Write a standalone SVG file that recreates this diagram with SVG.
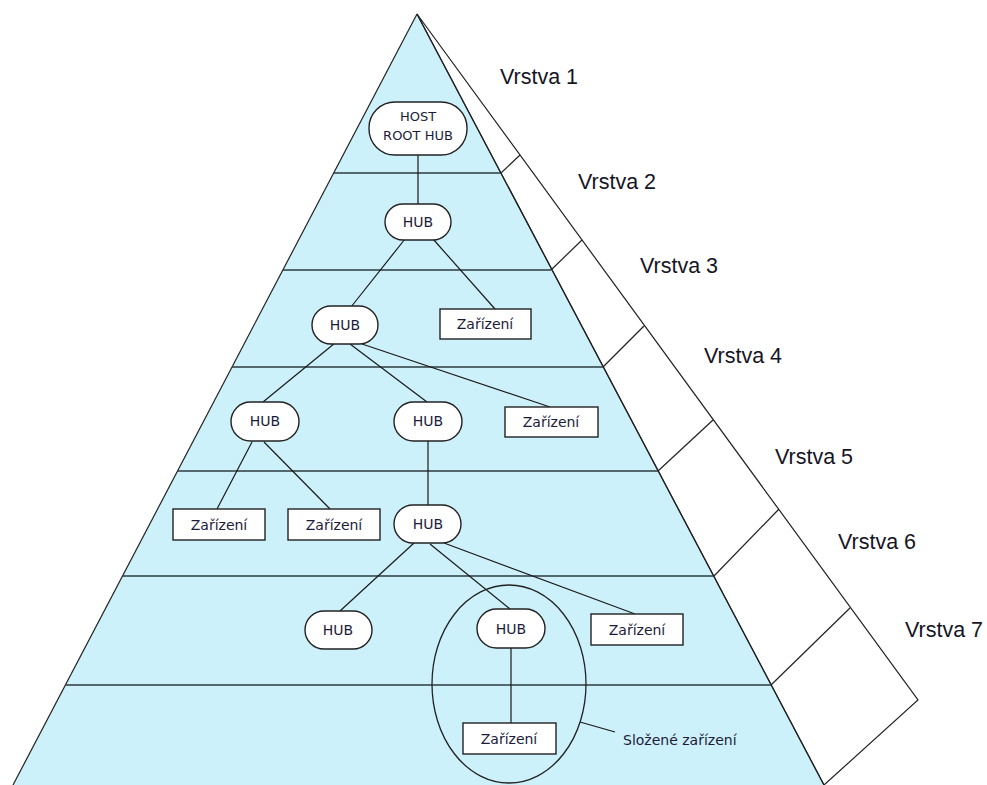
<svg xmlns="http://www.w3.org/2000/svg" width="987" height="785" viewBox="0 0 987 785">
<style>
.edge{stroke:#222;stroke-width:1.2;fill:none}
.layer{stroke:#2d3a3e;stroke-width:1.6;fill:none}
.conn{stroke:#1a1a1a;stroke-width:1.2;fill:none}
.node{fill:#fff;stroke:#222;stroke-width:1.4}
.lbl{font-family:"DejaVu Sans",Verdana,sans-serif;font-size:14px;fill:#1c1c3a;text-anchor:middle}
.small{font-size:13px}
.vr{font-family:"Liberation Sans",Arial,sans-serif;font-size:21.5px;fill:#151525}
.note{font-family:"DejaVu Sans",Verdana,sans-serif;font-size:14px;fill:#1c1c3a}
</style>
<rect width="987" height="785" fill="#fff"/>
<g id="pyramid">
<polygon points="417,14 824,785 13,785" fill="#cdf1fb" stroke="none"/>
<polygon points="417,14 918,700 824,785" fill="#fff" class="edge"/>
<line class="edge" x1="417" y1="14" x2="824" y2="785"/>
<line class="edge" x1="417" y1="14" x2="13" y2="785"/>
<g id="layer-lines">
<line class="layer" x1="334" y1="173" x2="501" y2="173"/>
<line class="layer" x1="283" y1="270" x2="551" y2="270"/>
<line class="layer" x1="232" y1="367" x2="603" y2="367"/>
<line class="layer" x1="178" y1="471" x2="658" y2="471"/>
<line class="layer" x1="123" y1="576" x2="714" y2="576"/>
<line class="layer" x1="66" y1="685" x2="771" y2="685"/>
</g>
<g id="side-dividers">
<line class="edge" x1="501" y1="173" x2="520" y2="155"/>
<line class="edge" x1="551" y1="270" x2="582" y2="240"/>
<line class="edge" x1="603" y1="367" x2="644" y2="326"/>
<line class="edge" x1="658" y1="471" x2="713" y2="420"/>
<line class="edge" x1="714" y1="576" x2="779" y2="509"/>
<line class="edge" x1="771" y1="685" x2="850" y2="608"/>
</g>
</g>
<g id="connectors">
<line class="conn" x1="418" y1="155" x2="418" y2="204"/>
<line class="conn" x1="405" y1="239" x2="351" y2="307"/>
<line class="conn" x1="433" y1="239" x2="495" y2="309"/>
<line class="conn" x1="335" y1="343" x2="263" y2="402"/>
<line class="conn" x1="350" y1="344" x2="427" y2="402"/>
<line class="conn" x1="362" y1="344" x2="550" y2="407"/>
<line class="conn" x1="252" y1="442" x2="217" y2="509"/>
<line class="conn" x1="264" y1="442" x2="330" y2="509"/>
<line class="conn" x1="428" y1="441" x2="428" y2="505"/>
<line class="conn" x1="414" y1="543" x2="340" y2="611"/>
<line class="conn" x1="430" y1="544" x2="510" y2="609"/>
<line class="conn" x1="444" y1="543" x2="635" y2="614"/>
<line class="conn" x1="511" y1="648" x2="511" y2="723"/>
<line class="conn" x1="580" y1="722" x2="615" y2="732"/>
</g>
<g id="host-root-hub">
<rect class="node" x="369" y="102" width="98" height="53" rx="26" ry="26"/>
<text class="lbl small" x="418" y="121">HOST</text>
<text class="lbl small" x="418" y="140">ROOT HUB</text>
</g>
<g id="hub-2">
<rect class="node" x="385" y="204" width="66" height="36" rx="18" ry="18"/>
<text class="lbl" x="418" y="227">HUB</text>
</g>
<g id="hub-3">
<rect class="node" x="312" y="306" width="66" height="38" rx="19" ry="19"/>
<text class="lbl" x="345" y="330">HUB</text>
</g>
<g id="dev-3">
<rect class="node" x="440" y="309" width="91" height="30"/>
<text class="lbl" x="485" y="329">Zařízení</text>
</g>
<g id="hub-4a">
<rect class="node" x="231" y="402" width="68" height="39" rx="19.5" ry="19.5"/>
<text class="lbl" x="265" y="426">HUB</text>
</g>
<g id="hub-4b">
<rect class="node" x="394" y="402" width="68" height="39" rx="19.5" ry="19.5"/>
<text class="lbl" x="428" y="426">HUB</text>
</g>
<g id="dev-4">
<rect class="node" x="505" y="407" width="93" height="30"/>
<text class="lbl" x="551" y="427">Zařízení</text>
</g>
<g id="dev-5a">
<rect class="node" x="173" y="509" width="92" height="31"/>
<text class="lbl" x="219" y="530">Zařízení</text>
</g>
<g id="dev-5b">
<rect class="node" x="288" y="509" width="92" height="31"/>
<text class="lbl" x="334" y="530">Zařízení</text>
</g>
<g id="hub-5">
<rect class="node" x="394" y="505" width="67" height="38" rx="19" ry="19"/>
<text class="lbl" x="428" y="529">HUB</text>
</g>
<g id="hub-6a">
<rect class="node" x="305" y="611" width="67" height="38" rx="19" ry="19"/>
<text class="lbl" x="338" y="635">HUB</text>
</g>
<g id="hub-6b">
<rect class="node" x="477" y="609" width="68" height="39" rx="19.5" ry="19.5"/>
<text class="lbl" x="511" y="634">HUB</text>
</g>
<g id="dev-6">
<rect class="node" x="591" y="614" width="92" height="31"/>
<text class="lbl" x="637" y="635">Zařízení</text>
</g>
<g id="dev-7">
<rect class="node" x="463" y="723" width="93" height="31"/>
<text class="lbl" x="509" y="744">Zařízení</text>
</g>
<g id="compound-device">
<ellipse cx="509" cy="684" rx="77" ry="99" fill="none" stroke="#222" stroke-width="1.3"/>
<text class="note" x="623" y="745">Složené zařízení</text>
</g>
<g id="layer-labels">
<text class="vr" x="500" y="84">Vrstva 1</text>
<text class="vr" x="578" y="189">Vrstva 2</text>
<text class="vr" x="640" y="273">Vrstva 3</text>
<text class="vr" x="704" y="363">Vrstva 4</text>
<text class="vr" x="775" y="464">Vrstva 5</text>
<text class="vr" x="838" y="549">Vrstva 6</text>
<text class="vr" x="905" y="637">Vrstva 7</text>
</g>
</svg>
